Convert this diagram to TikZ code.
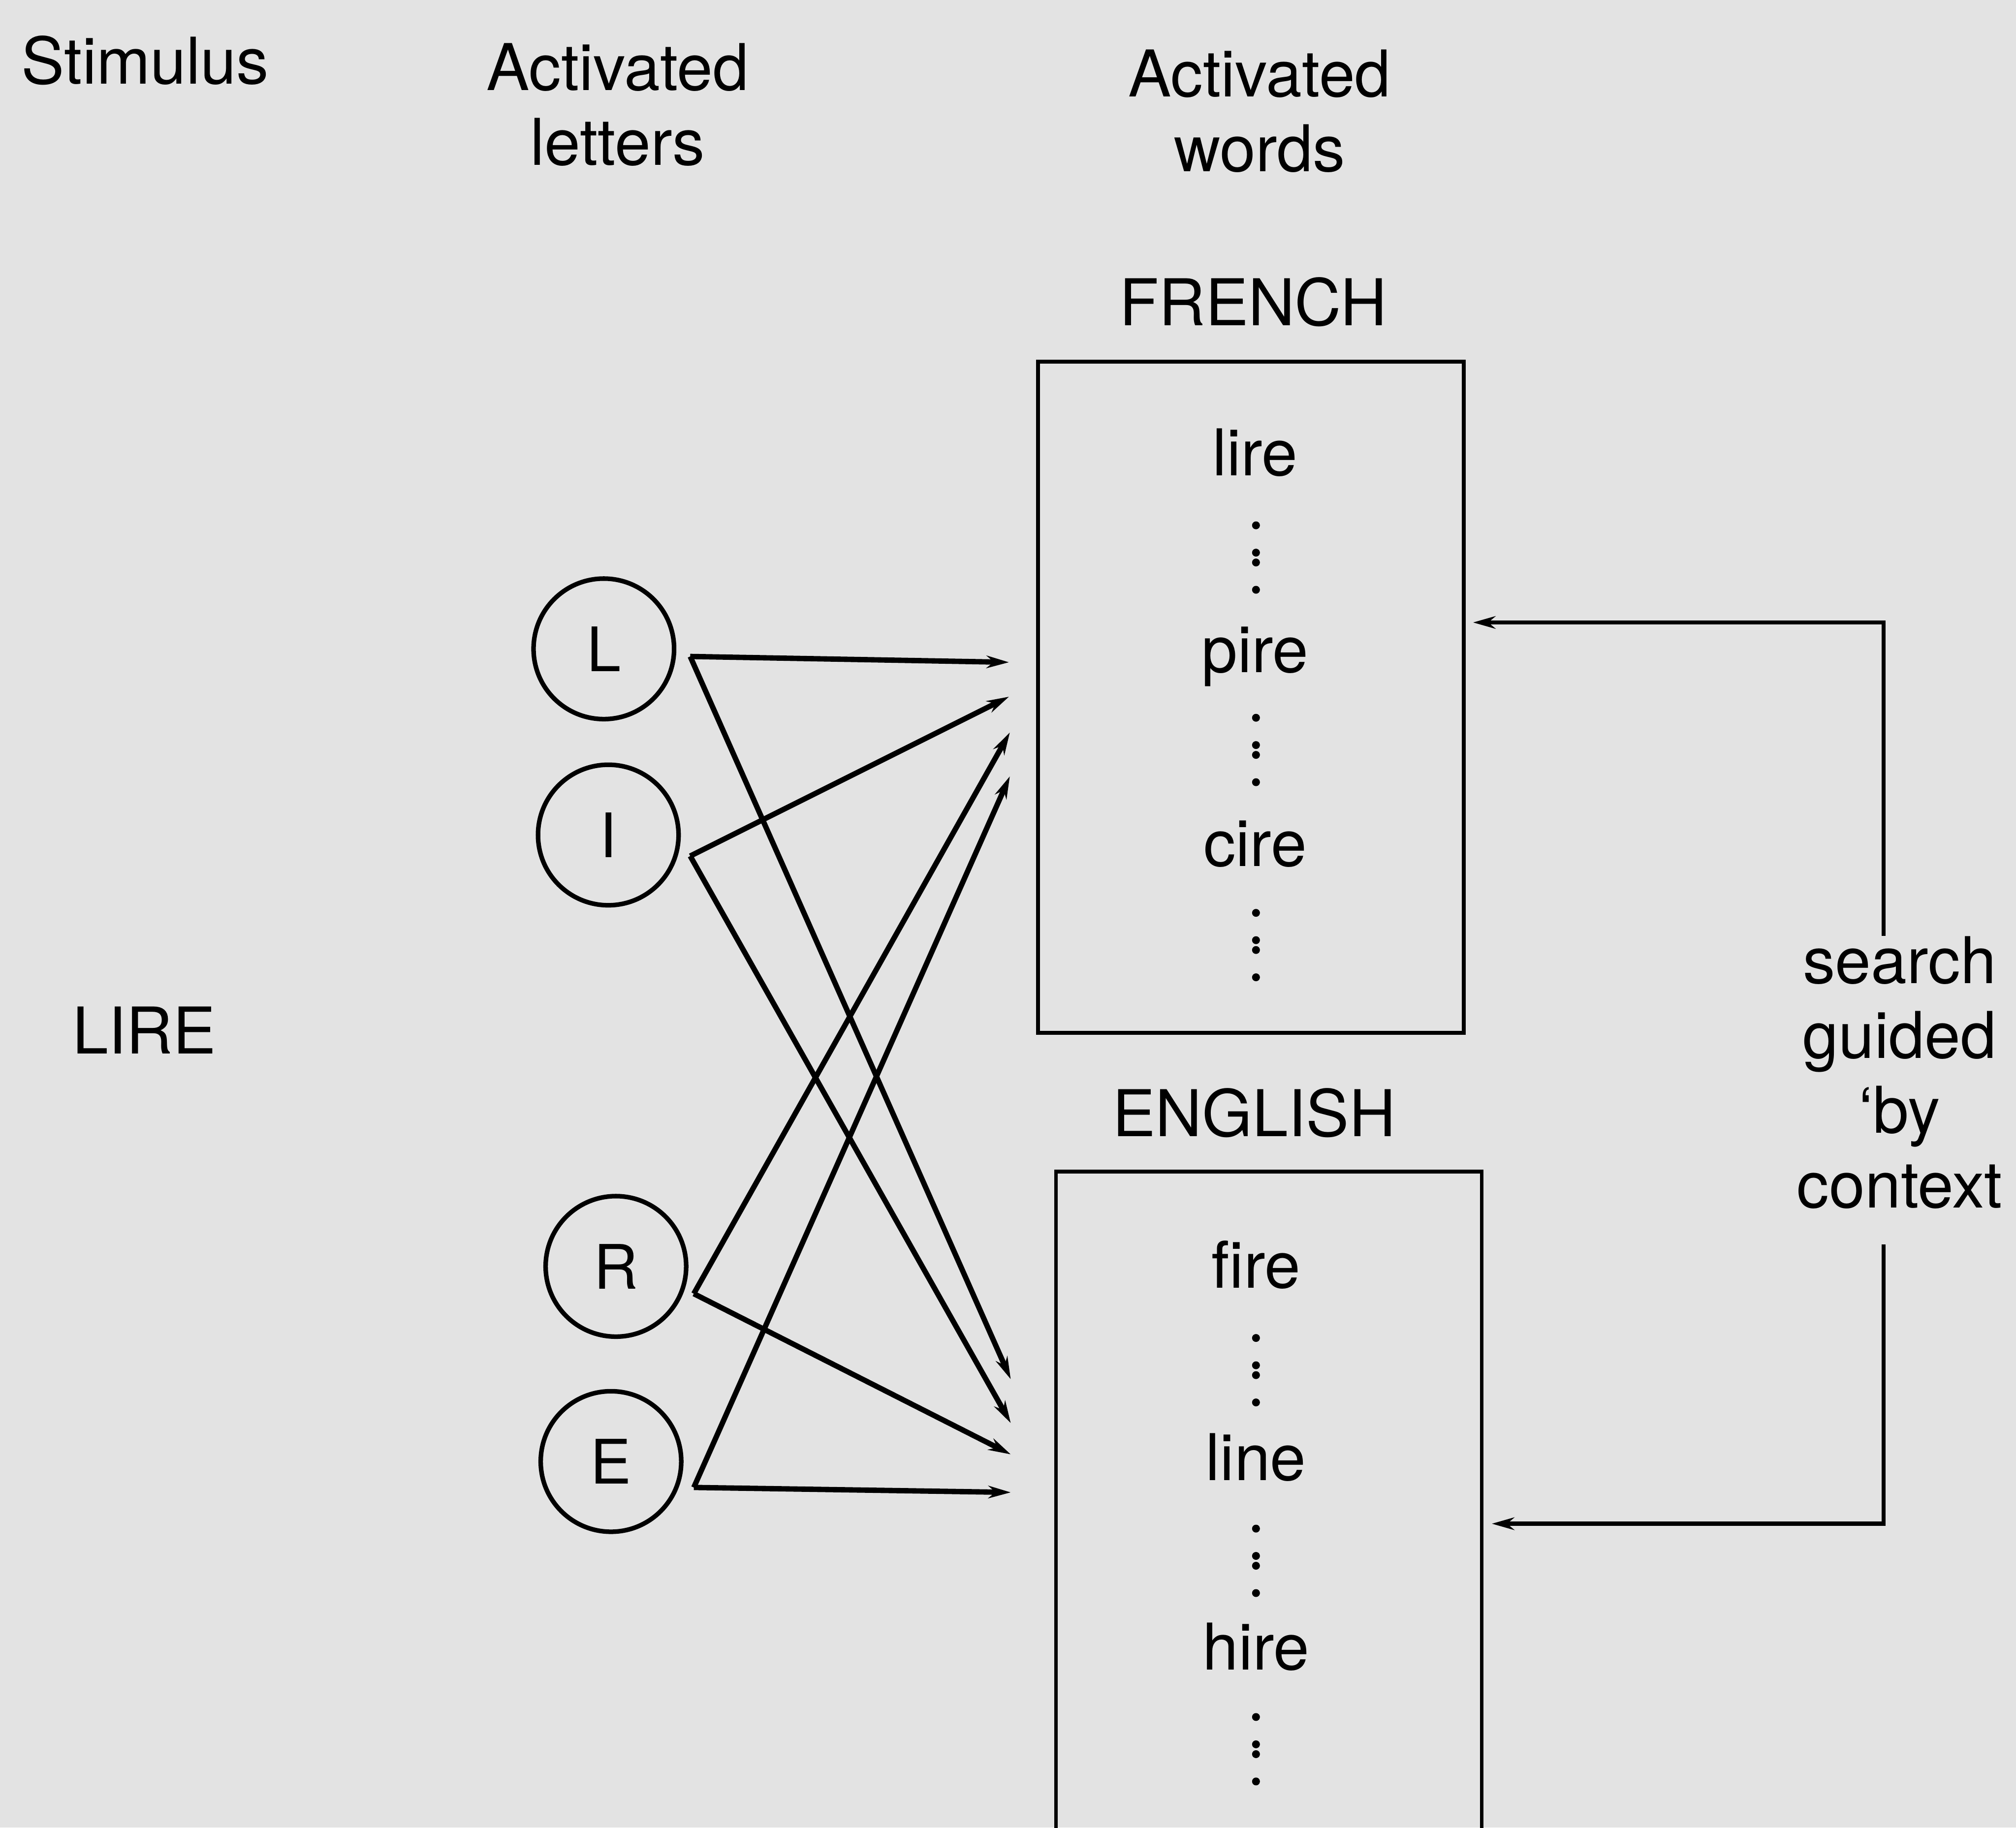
\documentclass[tikz,border=0pt]{standalone}
\usepackage{fontspec}
\setmainfont{TeX Gyre Heros}
\usepackage{tikz}
\usetikzlibrary{arrows.meta}
\definecolor{paper}{gray}{0.89}
\tikzstyle{label} = [font=\fontsize{20.5}{23.8}\selectfont, align=center, inner sep=0pt]
\tikzstyle{letter} = [circle, draw=black, line width=1.45pt, minimum size=1.57cm, inner sep=0pt, font=\fontsize{19.5}{22}\selectfont]
\tikzstyle{lexicon} = [rectangle, draw=black, line width=1.2pt, minimum width=4.755cm, anchor=north west]
\tikzstyle{link} = [line width=1.7pt, -{Stealth[length=0.25cm, width=0.14cm]}]
\tikzstyle{feedback} = [line width=1.3pt, -{Stealth[length=0.25cm, width=0.14cm]}]

\begin{document}
\begin{tikzpicture}

        \path[use as bounding box, fill=paper] (0,0) rectangle (22.52,-20.42);

        \node (stimulus) [label, anchor=base] at (1.62,-0.935) {Stimulus};
        \node (letters) [label, anchor=north] at (6.90,-0.474) {Activated\\letters};
        \node (words) [label, anchor=north] at (14.07,-0.55) {Activated\\words};

        \node (lire) [label, anchor=base] at (1.61,-11.775) {LIRE};

        \node (L) [letter] at (6.745,-7.25) {L};
        \node (I) [letter] at (6.795,-9.33) {I};
        \node (R) [letter] at (6.88,-14.15) {R};
        \node (E) [letter] at (6.825,-16.33) {E};

        \node (frenchhead) [label, anchor=base] at (14.0,-3.635) {FRENCH};
        \node (french) [lexicon, minimum height=7.5cm] at (11.575,-4.02) {};
        \node (englishhead) [label, anchor=base] at (14.01,-12.70) {ENGLISH};
        \node (english) [lexicon, minimum height=8cm] at (11.775,-13.07) {};

        \node (w-lire) [label, anchor=base] at (14.02,-5.315) {lire};
        \node (w-pire) [label, anchor=base] at (14.02,-7.515) {pire};
        \node (w-cire) [label, anchor=base] at (14.02,-9.68) {cire};
        \node (w-fire) [label, anchor=base] at (14.03,-14.39) {fire};
        \node (w-line) [label, anchor=base] at (14.03,-16.54) {line};
        \node (w-hire) [label, anchor=base] at (14.03,-18.66) {hire};

        % dotted gaps between the listed words
        \foreach \y in {-6.23, -8.38, -10.56, -15.31, -17.44, -19.545}
            \foreach \d in {-0.36, -0.055, 0.055, 0.36}
                \fill ({14.03}, {\y+\d}) circle (0.044);

        \node (ctx) [label] at (21.22,-11.985) {search\\guided\\\textquoteleft by\\context};

        \coordinate (L-out) at (7.71,-7.335);
        \coordinate (I-out) at (7.71,-9.565);
        \coordinate (R-out) at (7.75,-14.455);
        \coordinate (E-out) at (7.75,-16.62);

        \coordinate (fr-1) at (11.27,-7.40);
        \coordinate (fr-2) at (11.27,-7.785);
        \coordinate (fr-3) at (11.28,-8.185);
        \coordinate (fr-4) at (11.28,-8.675);
        \coordinate (en-1) at (11.29,-15.41);
        \coordinate (en-2) at (11.29,-15.90);
        \coordinate (en-3) at (11.29,-16.25);
        \coordinate (en-4) at (11.29,-16.675);

        \draw[link] (L-out) -- (fr-1);
        \draw[link] (L-out) -- (en-1);
        \draw[link] (I-out) -- (fr-2);
        \draw[link] (I-out) -- (en-2);
        \draw[link] (R-out) -- (fr-3);
        \draw[link] (R-out) -- (en-3);
        \draw[link] (E-out) -- (fr-4);
        \draw[link] (E-out) -- (en-4);

        \coordinate (fr-in) at (16.455,-6.955);
        \coordinate (en-in) at (16.665,-17.025);

        \draw[feedback] ([xshift=-0.18cm]ctx.north) |- (fr-in);
        \draw[feedback] ([xshift=-0.18cm, yshift=-0.39cm]ctx.south) |- (en-in);

\end{tikzpicture}
\end{document}
